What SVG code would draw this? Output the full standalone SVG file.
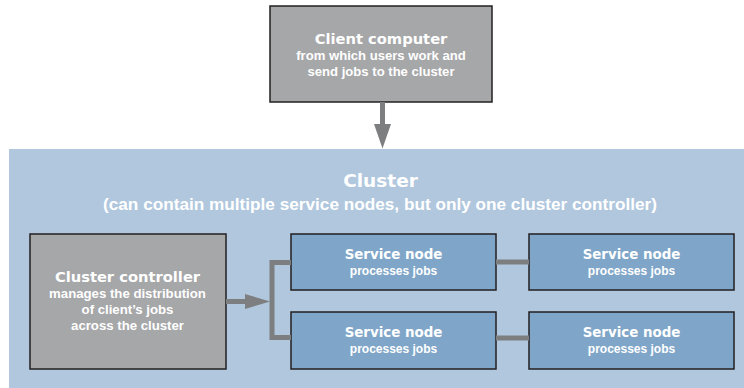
<svg xmlns="http://www.w3.org/2000/svg" width="744" height="388" viewBox="0 0 744 388">
  <style>
    .box { stroke: #231f20; stroke-width: 1.5; }
    .gray { fill: #a6a7a9; }
    .blue { fill: #7fa6c8; }
    .title { font-family: "DejaVu Sans", "Liberation Sans", sans-serif; font-weight: bold; fill: #ffffff; text-anchor: middle; }
    .sub { font-family: "Liberation Sans", Arial, sans-serif; font-weight: bold; fill: #ffffff; text-anchor: middle; }
    .link { fill: none; stroke: #7d7e80; stroke-width: 5; }
    .head { fill: #7d7e80; }
  </style>

  <!-- cluster background -->
  <g id="cluster">
    <rect x="9" y="149" width="735" height="239" fill="#b0c7dd"/>
    <text class="title" x="380.5" y="187" font-size="18.5">Cluster</text>
    <text class="sub" x="380" y="210" font-size="17.2">(can contain multiple service nodes, but only one cluster controller)</text>
  </g>

  <g id="client">
    <rect class="box gray" x="270" y="6" width="222" height="96"/>
    <text class="title" x="381" y="44" font-size="14.7">Client computer</text>
    <text class="sub" x="381" y="60" font-size="13.1">from which users work and</text>
    <text class="sub" x="381" y="76" font-size="13.1">send jobs to the cluster</text>
  </g>

  <g id="controller">
    <rect class="box gray" x="30" y="234" width="196" height="135"/>
    <text class="title" x="127.5" y="282" font-size="14.7">Cluster controller</text>
    <text class="sub" x="127.5" y="298" font-size="13.2">manages the distribution</text>
    <text class="sub" x="127.5" y="314" font-size="13.2">of client’s jobs</text>
    <text class="sub" x="127.5" y="330" font-size="13.2">across the cluster</text>
  </g>

  <g id="node1">
    <rect class="box blue" x="291" y="234" width="205" height="56"/>
    <text class="title" x="393.5" y="259" font-size="13.4">Service node</text>
    <text class="sub" x="393.5" y="275" font-size="12">processes jobs</text>
  </g>
  <g id="node2">
    <rect class="box blue" x="529" y="234" width="205" height="56"/>
    <text class="title" x="631.5" y="259" font-size="13.4">Service node</text>
    <text class="sub" x="631.5" y="275" font-size="12">processes jobs</text>
  </g>
  <g id="node3">
    <rect class="box blue" x="291" y="312" width="205" height="57"/>
    <text class="title" x="393.5" y="337" font-size="13.4">Service node</text>
    <text class="sub" x="393.5" y="353" font-size="12">processes jobs</text>
  </g>
  <g id="node4">
    <rect class="box blue" x="529" y="312" width="205" height="57"/>
    <text class="title" x="631.5" y="337" font-size="13.4">Service node</text>
    <text class="sub" x="631.5" y="353" font-size="12">processes jobs</text>
  </g>

  <g id="connectors">
    <!-- client to cluster -->
    <line class="link" x1="382.5" y1="102" x2="382.5" y2="126" stroke-width="6"/>
    <polygon class="head" points="374,124 391,124 382.5,148.5"/>
    <!-- controller to service nodes -->
    <line class="link" x1="226" y1="301.5" x2="246" y2="301.5"/>
    <polygon class="head" points="245,294 245,309 270,301.5"/>
    <polyline class="link" points="291,262.5 272,262.5 272,337.5 291,337.5"/>
    <!-- node to node -->
    <line class="link" x1="496" y1="262" x2="529" y2="262"/>
    <line class="link" x1="496" y1="338" x2="529" y2="338"/>
  </g>
</svg>
